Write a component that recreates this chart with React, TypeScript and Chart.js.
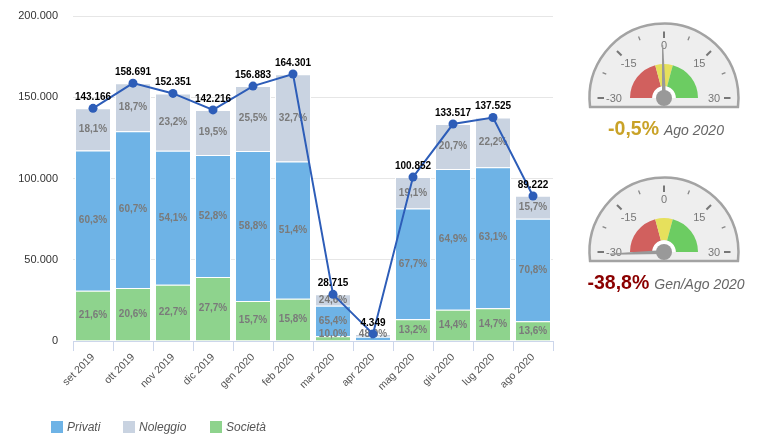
import React, { useEffect, useRef } from 'react';
import { Chart, registerables } from 'chart.js';

Chart.register(...registerables);

const FONT = '"Liberation Sans", Arial, Helvetica, sans-serif';

// ---------- data ----------
const months = ['set 2019', 'ott 2019', 'nov 2019', 'dic 2019', 'gen 2020', 'feb 2020', 'mar 2020', 'apr 2020', 'mag 2020', 'giu 2020', 'lug 2020', 'ago 2020'];
const totals = [143166, 158691, 152351, 142216, 156883, 164301, 28715, 4349, 100852, 133517, 137525, 89222];
const pctSocieta = [21.6, 20.6, 22.7, 27.7, 15.7, 15.8, 10.0, 11.9, 13.2, 14.4, 14.7, 13.6];
const pctPrivati = [60.3, 60.7, 54.1, 52.8, 58.8, 51.4, 65.4, 48.0, 67.7, 64.9, 63.1, 70.8];
const pctNoleggio = [18.1, 18.7, 23.2, 19.5, 25.5, 32.7, 24.6, 40.1, 19.1, 20.7, 22.2, 15.7];
const yTicks = [0, 50000, 100000, 150000, 200000];

const seriesNames = ['Società', 'Privati', 'Noleggio'];
const legendOrder = ['Privati', 'Noleggio', 'Società'];

const gaugeBandFrom = [-30, -5, 5];
const gaugeBandTo = [-5, 5, 30];
const gaugeMajorTicks = [-30, -15, 0, 15, 30];
const gaugeMinorTicks = [-22.5, -7.5, 7.5, 22.5];
const gaugeValues = [-0.5, -38.8];
const gaugeCaptions = ['Ago 2020', 'Gen/Ago 2020'];

// ---------- styles ----------
const C_PRIVATI = '#6eb3e6';
const C_NOLEGGIO = '#c9d3e1';
const C_SOCIETA = '#8ed38d';
const C_LINE = '#2d5db8';
const seriesColors: Record<string, string> = { 'Società': C_SOCIETA, Privati: C_PRIVATI, Noleggio: C_NOLEGGIO };
const bandColors = ['#d1605e', '#e6e05c', '#6ccc62'];
const gaugeValueColors = ['#c9a227', '#8b0000'];

const fmtThousands = (n: number) => String(Math.round(n)).replace(/\B(?=(\d{3})+(?!\d))/g, '.');
const fmtPct = (p: number) => p.toFixed(1).replace('.', ',') + '%';

const pctArrays = [pctSocieta, pctPrivati, pctNoleggio];
const segValues = pctArrays.map((arr) => arr.map((p, i) => (totals[i] * p) / 100));

const labelsPlugin = {
  id: 'barLabels',
  beforeDatasetDraw(chart: any, args: any) {
    if (args.index !== 3) return;
    const ctx = chart.ctx;
    ctx.save();
    ctx.font = `bold 10px ${FONT}`;
    ctx.textAlign = 'center';
    ctx.textBaseline = 'middle';
    ctx.fillStyle = '#7a7a7a';
    const boxes: { x1: number; x2: number; y1: number; y2: number }[][] = months.map(() => []);
    const order = [1, 2, 0];
    const h = 11;
    for (const di of order) {
      const meta = chart.getDatasetMeta(di);
      meta.data.forEach((el: any, i: number) => {
        const { x, y, base } = el.getProps(['x', 'y', 'base'], true);
        let cy = (y + base) / 2;
        cy = Math.min(cy, chart.chartArea.bottom - h / 2 - 1);
        const text = fmtPct(pctArrays[di][i]);
        const w = ctx.measureText(text).width;
        const b = { x1: x - w / 2, x2: x + w / 2, y1: cy - h / 2, y2: cy + h / 2 };
        if (boxes[i].some((o) => !(b.y2 <= o.y1 || b.y1 >= o.y2))) return;
        boxes[i].push(b);
        ctx.fillText(text, x, cy);
      });
    }
    ctx.restore();
  },
  afterDatasetsDraw(chart: any) {
    const ctx = chart.ctx;
    ctx.save();
    ctx.font = `bold 10px ${FONT}`;
    ctx.textAlign = 'center';
    ctx.textBaseline = 'middle';
    ctx.fillStyle = '#000';
    const meta = chart.getDatasetMeta(3);
    meta.data.forEach((pt: any, i: number) => {
      const { x, y } = pt.getProps(['x', 'y'], true);
      ctx.fillText(fmtThousands(totals[i]), x, y - 11);
    });
    ctx.restore();
  },
  afterDraw(chart: any) {
    const ctx = chart.ctx;
    ctx.save();
    ctx.font = `italic 12px ${FONT}`;
    ctx.textBaseline = 'middle';
    ctx.textAlign = 'left';
    const xs = [51, 123, 210];
    legendOrder.forEach((name, i) => {
      ctx.fillStyle = seriesColors[name];
      ctx.fillRect(xs[i], 421, 12, 12);
      ctx.fillStyle = '#555';
      ctx.fillText(name, xs[i] + 16, 427.5);
    });
    ctx.restore();
  },
};

const gaugePlugin = {
  id: 'gaugeDecor',
  beforeDatasetsDraw(chart: any) {
    const arc = chart.getDatasetMeta(0).data[0];
    const cx = arc.x, cy = arc.y;
    const ctx = chart.ctx;
    ctx.save();
    // pane
    const R = 74.5;
    const d = Math.asin(9 / R);
    ctx.beginPath();
    ctx.arc(cx, cy, R, Math.PI - d, 2 * Math.PI + d);
    ctx.closePath();
    ctx.fillStyle = '#eeeeee';
    ctx.fill();
    ctx.lineWidth = 2.5;
    ctx.strokeStyle = '#a3a3a3';
    ctx.stroke();
    const ang = (v: number) => -Math.PI / 2 + (v * Math.PI) / 60;
    // ticks
    ctx.lineCap = 'butt';
    gaugeMajorTicks.forEach((v) => {
      const a = ang(v);
      ctx.beginPath();
      ctx.moveTo(cx + Math.cos(a) * 60, cy + Math.sin(a) * 60);
      ctx.lineTo(cx + Math.cos(a) * 66.5, cy + Math.sin(a) * 66.5);
      ctx.lineWidth = 2;
      ctx.strokeStyle = '#777';
      ctx.stroke();
    });
    gaugeMinorTicks.forEach((v) => {
      const a = ang(v);
      ctx.beginPath();
      ctx.moveTo(cx + Math.cos(a) * 62.5, cy + Math.sin(a) * 62.5);
      ctx.lineTo(cx + Math.cos(a) * 66.5, cy + Math.sin(a) * 66.5);
      ctx.lineWidth = 1.3;
      ctx.strokeStyle = '#888';
      ctx.stroke();
    });
    // labels
    ctx.font = `11px ${FONT}`;
    ctx.fillStyle = '#777';
    ctx.textAlign = 'center';
    ctx.textBaseline = 'middle';
    gaugeMajorTicks.forEach((v) => {
      const a = ang(v);
      const r = v === 0 ? 53 : 50;
      ctx.fillText(String(v), cx + Math.cos(a) * r, cy + Math.sin(a) * r + 1);
    });
    ctx.restore();
  },
  afterDatasetsDraw(chart: any, _args: any, opts: any) {
    const arc = chart.getDatasetMeta(0).data[0];
    const cx = arc.x, cy = arc.y;
    const ctx = chart.ctx;
    const value: number = opts.value;
    const clamped = Math.max(-30.75, Math.min(30.75, value));
    const a = -Math.PI / 2 + (clamped * Math.PI) / 60;
    ctx.save();
    // white ring around pivot
    ctx.beginPath();
    ctx.arc(cx, cy, 11.5, Math.PI, 2 * Math.PI);
    ctx.fillStyle = '#ffffff';
    ctx.fill();
    // needle
    const L = 53;
    const px = -Math.sin(a), py = Math.cos(a);
    ctx.beginPath();
    ctx.moveTo(cx + px * 2, cy + py * 2);
    ctx.lineTo(cx + Math.cos(a) * L + px * 0.6, cy + Math.sin(a) * L + py * 0.6);
    ctx.lineTo(cx + Math.cos(a) * L - px * 0.6, cy + Math.sin(a) * L - py * 0.6);
    ctx.lineTo(cx - px * 2, cy - py * 2);
    ctx.closePath();
    ctx.fillStyle = '#999';
    ctx.fill();
    // pivot
    ctx.beginPath();
    ctx.arc(cx, cy, 8, 0, Math.PI * 2);
    ctx.fillStyle = '#999';
    ctx.fill();
    // caption
    const vText = fmtPct(value);
    ctx.font = `bold 19.5px ${FONT}`;
    const w1 = ctx.measureText(vText).width;
    ctx.font = `italic 14px ${FONT}`;
    const w2 = ctx.measureText(opts.caption).width;
    const gap = 5;
    const W = w1 + gap + w2;
    const x0 = cx + 2 - W / 2;
    const by = cy + 37;
    ctx.textBaseline = 'alphabetic';
    ctx.textAlign = 'left';
    ctx.font = `bold 19.5px ${FONT}`;
    ctx.fillStyle = opts.color;
    ctx.fillText(vText, x0, by);
    ctx.font = `italic 14px ${FONT}`;
    ctx.fillStyle = '#666';
    ctx.fillText(opts.caption, x0 + w1 + gap, by);
    ctx.restore();
  },
};

function makeGauge(canvas: HTMLCanvasElement, idx: number) {
  return new Chart(canvas, {
    type: 'doughnut',
    data: {
      labels: gaugeBandFrom.map((f, i) => `${f}..${gaugeBandTo[i]}`),
      datasets: [
        {
          data: gaugeBandFrom.map((f, i) => gaugeBandTo[i] - f),
          backgroundColor: bandColors,
          borderWidth: 0,
        },
      ],
    },
    options: {
      responsive: false,
      animation: false,
      events: [],
      rotation: -90,
      circumference: 180,
      cutout: '35%',
      radius: 34,
      layout: { padding: 0 },
      plugins: {
        legend: { display: false },
        tooltip: { enabled: false },
        gaugeDecor: { value: gaugeValues[idx], caption: gaugeCaptions[idx], color: gaugeValueColors[idx] },
      } as any,
    } as any,
    plugins: [gaugePlugin as any],
  });
}

export default function App() {
  const mainRef = useRef<HTMLCanvasElement>(null);
  const g1Ref = useRef<HTMLCanvasElement>(null);
  const g2Ref = useRef<HTMLCanvasElement>(null);

  useEffect(() => {
    const barCommon = {
      type: 'bar' as const,
      stack: 'bars',
      order: 1,
      borderColor: '#ffffff',
      borderWidth: 1,
      barPercentage: 0.9,
      categoryPercentage: 1,
    };
    const main = new Chart(mainRef.current!, {
      type: 'bar',
      data: {
        labels: months,
        datasets: [
          { ...barCommon, label: seriesNames[0], data: segValues[0], backgroundColor: C_SOCIETA },
          { ...barCommon, label: seriesNames[1], data: segValues[1], backgroundColor: C_PRIVATI },
          { ...barCommon, label: seriesNames[2], data: segValues[2], backgroundColor: C_NOLEGGIO },
          {
            type: 'line',
            label: 'Totale',
            data: totals,
            stack: 'line',
            order: 0,
            borderColor: C_LINE,
            backgroundColor: C_LINE,
            borderWidth: 2,
            pointRadius: 4.5,
            pointBackgroundColor: C_LINE,
            pointBorderWidth: 0,
            tension: 0,
          } as any,
        ],
      },
      options: {
        responsive: false,
        animation: false,
        events: [],
        layout: { padding: { top: 16, left: 0, right: 17, bottom: 0 } },
        plugins: { legend: { display: false }, tooltip: { enabled: false } },
        scales: {
          x: {
            stacked: true,
            offset: true,
            grid: { offset: true, drawOnChartArea: false, drawTicks: true, tickLength: 10, color: '#ccd6eb' },
            border: { color: '#ccd6eb' },
            ticks: { minRotation: 45, maxRotation: 45, autoSkip: false, font: { size: 10.5, family: FONT }, color: '#555', padding: 0 },
            afterFit: (s: any) => { s.height = 104; s.paddingLeft = 0; s.paddingRight = 0; },
          },
          y: {
            stacked: true,
            min: yTicks[0],
            max: yTicks[yTicks.length - 1],
            afterBuildTicks: (s: any) => { s.ticks = yTicks.map((v) => ({ value: v })); },
            ticks: { callback: (v: any) => fmtThousands(Number(v)), font: { size: 11, family: FONT }, color: '#333', padding: 15 },
            grid: { color: '#e6e6e6', drawTicks: false },
            border: { display: false },
            afterFit: (s: any) => { s.width = 73; s.paddingTop = 0; s.paddingBottom = 0; },
          },
        },
      } as any,
      plugins: [labelsPlugin as any],
    });
    const g1 = makeGauge(g1Ref.current!, 0);
    const g2 = makeGauge(g2Ref.current!, 1);
    return () => {
      main.destroy();
      g1.destroy();
      g2.destroy();
    };
  }, []);

  return (
    <div style={{ position: 'absolute', left: 0, top: 0, width: 776, height: 445, background: '#fff', overflow: 'hidden' }}>
      <canvas ref={mainRef} width={570} height={445} style={{ position: 'absolute', left: 0, top: 0 }} />
      <canvas ref={g1Ref} width={170} height={124} style={{ position: 'absolute', left: 579, top: 19 }} />
      <canvas ref={g2Ref} width={170} height={124} style={{ position: 'absolute', left: 579, top: 173 }} />
    </div>
  );
}
